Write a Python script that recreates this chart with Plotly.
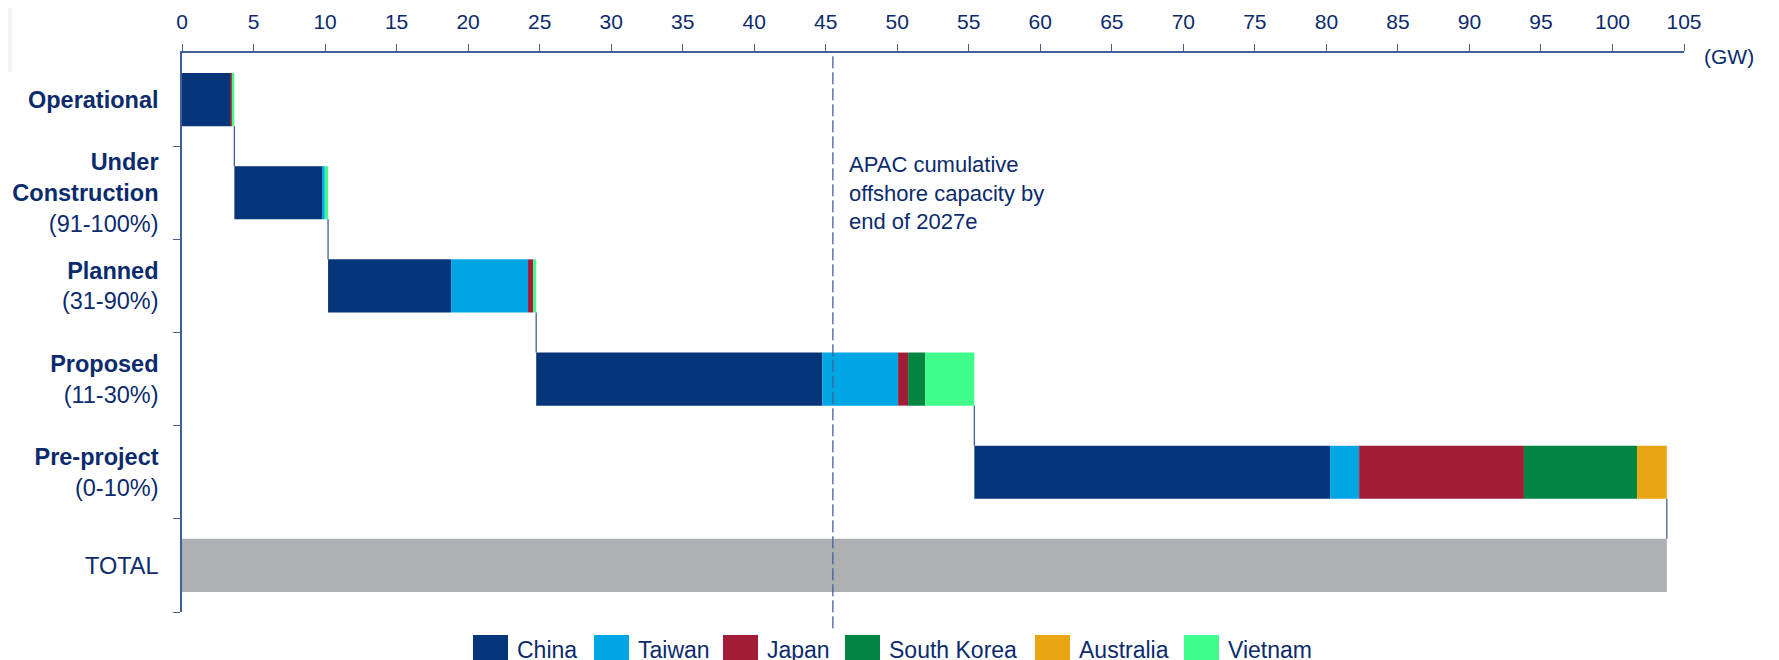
import plotly.graph_objects as go

# ── Data (GW) ────────────────────────────────────────────────────────────────
STAGES = ["Operational", "Under Construction", "Planned", "Proposed", "Pre-project"]
STAGE_LABELS = [
    "<b>Operational</b>",
    "<b>Under</b><br><b>Construction</b><br>(91-100%)",
    "<b>Planned</b><br>(31-90%)",
    "<b>Proposed</b><br>(11-30%)",
    "<b>Pre-project</b><br>(0-10%)",
    "TOTAL",
]
COUNTRIES = ["China", "Taiwan", "Japan", "South Korea", "Australia", "Vietnam"]

CHINA = [3.40, 6.13, 8.60, 20.00, 24.87]
TAIWAN = [0.00, 0.19, 5.38, 5.30, 2.03]
JAPAN = [0.08, 0.00, 0.37, 0.70, 11.52]
SOUTH_KOREA = [0.00, 0.00, 0.00, 1.20, 7.91]
AUSTRALIA = [0.00, 0.00, 0.00, 0.00, 2.08]
VIETNAM = [0.18, 0.23, 0.20, 3.43, 0.00]

APAC_2027E = 45.5
X_TICKS = list(range(0, 106, 5))

_PALETTE = {
    "China": "#06357a",
    "Taiwan": "#00a5e3",
    "Japan": "#a01c37",
    "South Korea": "#008542",
    "Australia": "#e8a614",
    "Vietnam": "#40fd8b",
    "total": "#adafb2",
    "axis": "#41609a",
    "text": "#0b2b6c",
}
FONT = "Arial, Liberation Sans, sans-serif"

series = dict(zip(COUNTRIES, [CHINA, TAIWAN, JAPAN, SOUTH_KOREA, AUSTRALIA, VIETNAM]))

# stage start/end along the cumulative axis
stage_totals = [sum(series[c][i] for c in COUNTRIES) for i in range(len(STAGES))]
stage_start, running = [], 0.0
for t in stage_totals:
    stage_start.append(running)
    running += t
grand_total = running

BAR_W = 0.57
y_pos = list(range(len(STAGES)))

fig = go.Figure()

offset = list(stage_start)
for country in COUNTRIES:
    vals = series[country]
    fig.add_trace(go.Bar(
        name=country,
        y=y_pos,
        x=vals,
        base=list(offset),
        orientation="h",
        width=BAR_W,
        marker=dict(color=_PALETTE[country], line=dict(width=0)),
        showlegend=False,
        hovertemplate=country + ": %{x:.1f} GW<extra></extra>",
    ))
    offset = [o + v for o, v in zip(offset, vals)]

fig.add_trace(go.Bar(
    name="TOTAL",
    y=[len(STAGES)],
    x=[grand_total],
    base=[0],
    orientation="h",
    width=BAR_W,
    marker=dict(color=_PALETTE["total"], line=dict(width=0)),
    showlegend=False,
    hovertemplate="Total: %{x:.1f} GW<extra></extra>",
))

# connectors between consecutive bars
cx, cy = [], []
for i in range(len(STAGES)):
    end = stage_start[i] + stage_totals[i]
    cx += [end, end, None]
    cy += [i + BAR_W / 2, i + 1 - BAR_W / 2, None]
fig.add_trace(go.Scatter(
    x=cx, y=cy, mode="lines",
    line=dict(color=_PALETTE["axis"], width=1.3),
    showlegend=False, hoverinfo="skip",
))

# APAC 2027e marker
fig.add_shape(
    type="line", xref="x", yref="paper",
    x0=APAC_2027E, x1=APAC_2027E, y0=-0.029, y1=1,
    line=dict(color=_PALETTE["axis"], width=1.3, dash="12px,4px"),
)
fig.add_annotation(
    x=APAC_2027E, y=0.826, xref="x", yref="paper",
    xanchor="left", yanchor="top", xshift=14, align="left", showarrow=False,
    text="APAC cumulative<br>offshore capacity by<br>end of 2027e",
    font=dict(family=FONT, size=22, color=_PALETTE["text"]),
)
fig.add_annotation(
    x=105, y=1, xref="x", yref="paper",
    xanchor="left", yanchor="middle", xshift=18, yshift=-3, showarrow=False,
    text="(GW)", font=dict(family=FONT, size=21, color=_PALETTE["text"]),
)

# ── Legend (large swatches, drawn in paper coords) ──────────────────────────
# page body adds an 8px offset, so figure pixels sit 8px left/up of screen pixels
PLOT_L, PLOT_R, PLOT_T, PLOT_B = 174, 1676, 45, 604
LEGEND_SWATCH_X = [465, 586, 715, 837, 1027, 1176]
LEGEND_SWATCH_TOP, LEGEND_TEXT_Y = 627, 642


def px_to_paper_x(px):
    return (px - PLOT_L) / (PLOT_R - PLOT_L)


def py_to_paper_y(py):
    return (PLOT_B - py) / (PLOT_B - PLOT_T)


for country, sx in zip(COUNTRIES, LEGEND_SWATCH_X):
    fig.add_shape(
        type="rect", xref="paper", yref="paper",
        x0=px_to_paper_x(sx), x1=px_to_paper_x(sx + 35),
        y0=py_to_paper_y(LEGEND_SWATCH_TOP), y1=py_to_paper_y(LEGEND_SWATCH_TOP + 34),
        fillcolor=_PALETTE[country], line=dict(width=0),
    )
    fig.add_annotation(
        x=px_to_paper_x(sx + 42), y=py_to_paper_y(LEGEND_TEXT_Y), xref="paper", yref="paper",
        xanchor="left", yanchor="middle", showarrow=False,
        text=country, font=dict(family=FONT, size=23, color=_PALETTE["text"]),
    )

# faint slide decoration in the top-left corner
fig.add_shape(
    type="rect", xref="paper", yref="paper",
    x0=px_to_paper_x(0), x1=px_to_paper_x(4),
    y0=py_to_paper_y(64), y1=py_to_paper_y(0),
    fillcolor="#f3f3f3", line=dict(width=0), layer="below",
)

fig.update_layout(
    width=1779,
    height=660,
    margin=dict(l=PLOT_L, r=1779 - PLOT_R, t=PLOT_T, b=660 - PLOT_B),
    paper_bgcolor="white",
    plot_bgcolor="white",
    barmode="overlay",
    showlegend=False,
    font=dict(family=FONT, color=_PALETTE["text"]),
    xaxis=dict(
        side="top",
        range=[0, 105],
        tickvals=X_TICKS,
        ticks="outside",
        ticklen=7,
        tickwidth=1.3,
        tickcolor=_PALETTE["axis"],
        showline=True,
        linecolor=_PALETTE["axis"],
        linewidth=1.5,
        showgrid=False,
        zeroline=False,
        automargin=False,
        tickfont=dict(family=FONT, size=21, color=_PALETTE["text"]),
        ticklabelstandoff=7,
    ),
    yaxis=dict(
        range=[len(STAGES) + 0.5, -0.5],
        tickvals=list(range(len(STAGE_LABELS))),
        ticktext=STAGE_LABELS,
        ticks="",
        showline=True,
        linecolor=_PALETTE["axis"],
        linewidth=1.5,
        showgrid=False,
        zeroline=False,
        automargin=False,
        tickfont=dict(family=FONT, size=23.5, color=_PALETTE["text"]),
        ticklabelstandoff=17,
        minor=dict(
            tickmode="array",
            tickvals=[i + 0.5 for i in range(len(STAGE_LABELS))],
            ticks="outside",
            ticklen=7,
            tickwidth=1.3,
            tickcolor=_PALETTE["axis"],
            showgrid=False,
        ),
    ),
)

fig.write_html("out.html")
